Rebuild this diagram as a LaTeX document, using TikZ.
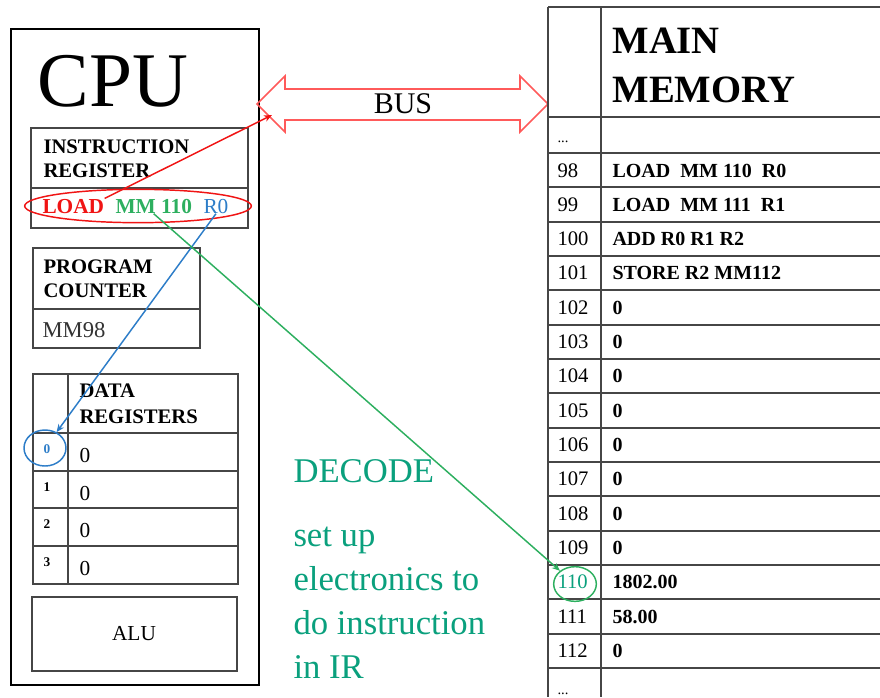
\documentclass[tikz,border=0pt]{standalone}
\usepackage{fontspec}
\setmainfont{Liberation Serif}
\usetikzlibrary{shapes.geometric,arrows.meta}

\definecolor{busred}{RGB}{255,90,90}
\definecolor{ldred}{RGB}{240,20,20}
\definecolor{mmgreen}{RGB}{45,175,95}
\definecolor{rblue}{RGB}{45,125,200}
\definecolor{dcgreen}{RGB}{10,160,125}
\definecolor{rule}{RGB}{70,70,70}

\tikzset{every picture/.style={line width=0.75pt}}

\begin{document}
\begin{tikzpicture}[x=0.75pt,y=0.75pt,yscale=-1,xscale=1,
  grid/.style={draw=rule, line width=1.4pt},
  lbl/.style={anchor=base west, inner sep=0pt},
  hd/.style={lbl, font=\bfseries\fontsize{15.5}{18}\selectfont},
  txt/.style={lbl, font=\fontsize{16}{19}\selectfont},
  addr/.style={lbl, font=\fontsize{15.5}{18}\selectfont},
  word/.style={lbl, font=\bfseries\fontsize{15}{18}\selectfont},
  idx/.style={lbl, font=\bfseries\fontsize{10}{12}\selectfont},
  decode/.style={lbl, text=dcgreen, font=\fontsize{26}{30}\selectfont},
  ring/.style={ellipse, draw, line width=1.1pt, inner sep=0pt},
  link/.style={-{Stealth[length=6pt,width=5pt]}, line width=1.1pt}
]
\useasboundingbox (0,0) rectangle (880,697);

%CPU outline
\draw[line width=1.2pt] (11,29) rectangle (259,685);
% Text Node
\node[lbl, font=\fontsize{58}{60}\selectfont] (cpu) at (37,106) {CPU};

%Instruction register
\draw[grid] (31,128) rectangle (248,228);
\draw[grid] (31,188) -- (248,188);
\node[hd] (irA) at (43,153) {INSTRUCTION};
\node[hd] (irB) at (43,177) {REGISTER};
\node[hd, font=\bfseries\fontsize{16}{19}\selectfont, text=ldred] (load) at (42,213) {LOAD};
\node[hd, font=\bfseries\fontsize{16}{19}\selectfont, text=mmgreen] (mm) at (115,213) {MM 110};
\node[txt, text=rblue] (r0) at (203,213) {R0};
\node[ring, draw=ldred, minimum width=170pt, minimum height=25pt] (irring) at (138,206) {};

%Program counter
\draw[grid] (33,248) rectangle (200,348);
\draw[grid] (33,309) -- (200,309);
\node[hd] (pcA) at (43,273) {PROGRAM};
\node[hd] (pcB) at (43,297) {COUNTER};
\node[txt, font=\fontsize{17}{20}\selectfont, text=black!80] (pc) at (42,337) {MM98};

%Data registers
\draw[grid] (33,374) rectangle (238,584);
\draw[grid] (68,374) -- (68,584);
\foreach \y in {433,471,508,546} \draw[grid] (33,\y) -- (238,\y);
\node[hd] (drA) at (79,397) {DATA};
\node[hd] (drB) at (79,423) {REGISTERS};
\foreach \r/\y/\c in {0/433/rblue,1/471/black,2/508/black,3/546/black}{
  \node[idx, text=\c] (i\r) at (43,\y+20) {\r};
  \node[txt] (d\r) at (79,\y+29) {0};
}
\node[ring, draw=rblue, minimum width=31.5pt, minimum height=27pt] (ring0) at (45,448) {};

%ALU
\draw[grid] (32,597) rectangle (237,671);
\node[txt, anchor=center] (alu) at (134,634) {ALU};

%Bus
\draw[busred, line width=1.2pt] (257,104) -- (285,76) -- (285,89) -- (520,89) -- (520,76) -- (548,104)
  -- (520,132) -- (520,120) -- (285,120) -- (285,132) -- cycle;
\node[font=\fontsize{22.5}{26}\selectfont, inner sep=0pt] (buslbl) at (403,104) {BUS};
\coordinate (busin) at (272,115);

%Main memory
\draw[grid] (548,7) -- (880,7);
\draw[grid] (548,7) -- (548,697);
\draw[grid] (601,7) -- (601,697);
\draw[grid] (548,117) -- (880,117);
\foreach \k in {0,...,15} \draw[grid] (548,153+34.33*\k) -- (880,153+34.33*\k);
\node[lbl, font=\bfseries\fontsize{29}{32}\selectfont] (memA) at (612,53) {MAIN};
\node[lbl, font=\bfseries\fontsize{29}{32}\selectfont] (memB) at (612,102) {MEMORY};
\node[lbl, font=\fontsize{11}{13}\selectfont] (dotsA) at (557,142) {...};
\node[lbl, font=\fontsize{11}{13}\selectfont] (dotsB) at (557,694) {...};
\foreach \a/\v/\c [count=\k from 0] in {98/{LOAD\ \ MM 110\ \ R0}/black, 99/{LOAD\ \ MM 111\ \ R1}/black,
    100/{ADD R0 R1 R2}/black, 101/{STORE R2 MM112}/black, 102/0/black, 103/0/black, 104/0/black,
    105/0/black, 106/0/black, 107/0/black, 108/0/black, 109/0/black, 110/1802.00/dcgreen,
    111/58.00/black, 112/0/black}{
  \node[addr, text=\c] (a\a) at (557,177+34.33*\k) {\a};
  \node[word] (w\a) at (612,177+34.33*\k) {\v};
}
\node[ring, draw=mmgreen, minimum width=32pt, minimum height=26pt] (ring110) at (575,584) {};

%Decode note
\node[decode] (dec) at (293,482) {DECODE};
\foreach \t [count=\k from 0] in {set up, electronics to, do instruction, in IR}
  \node[decode] (dec\k) at (293,546+44*\k) {\t};

%Links
\draw[link, ldred] (load.north east) -- (busin);
\draw[link, rblue] (r0.south) -- (ring0);
\draw[link, mmgreen] (mm.south) -- (ring110);

\end{tikzpicture}
\end{document}
